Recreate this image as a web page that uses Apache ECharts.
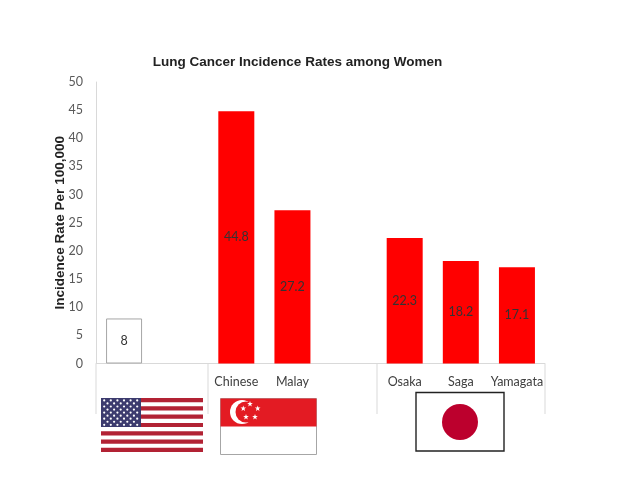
<!DOCTYPE html>
<html><head><meta charset="utf-8">
<style>html,body{margin:0;padding:0;background:#fff}#c{width:638px;height:479px}</style>
<script src="https://cdn.jsdelivr.net/npm/echarts@6/dist/echarts.min.js"></script>
</head><body><div id="c"></div>
<script>
const categories = ['', ' ', 'Chinese', 'Malay', '  ', 'Osaka', 'Saga', 'Yamagata'];
const values = [8, null, 44.8, 27.2, null, 22.3, 18.2, 17.1];
const yTicks = {min: 0, max: 50, interval: 5};
const titleText = 'Lung Cancer Incidence Rates among Women';
const yName = 'Incidence Rate Per 100,000';

function starPoints(cx, cy, R) {
  const p = [];
  for (let i = 0; i < 10; i++) {
    const r = i % 2 ? R * 0.4 : R, a = -Math.PI / 2 + i * Math.PI / 5;
    p.push([cx + r * Math.cos(a), cy + r * Math.sin(a)]);
  }
  return p;
}
const g = [];
// group separators below the axis
[96, 208, 377, 545].forEach(x => g.push({type: 'line', shape: {x1: x, y1: 364, x2: x, y2: 414}, style: {stroke: '#d9d9d9', lineWidth: 1}}));
// US flag
const usX = 101, usY = 398, usW = 102, usH = 54, sh = usH / 13;
for (let i = 0; i < 13; i += 2) g.push({type: 'rect', shape: {x: usX, y: usY + i * sh, width: usW, height: sh}, style: {fill: '#b22234'}});
g.push({type: 'rect', shape: {x: usX, y: usY, width: 40, height: 29}, style: {fill: '#3c3b6e'}});
for (let r = 0; r < 9; r++) {
  const n = r % 2 ? 5 : 6;
  for (let c = 0; c < n; c++) g.push({type: 'circle', shape: {cx: usX + (r % 2 ? 6.5 : 3.2) + c * 6.6, cy: usY + 2.4 + r * 3.05, r: 1.1}, style: {fill: '#ffffff'}});
}
// Singapore flag
g.push({type: 'rect', shape: {x: 220.5, y: 398.5, width: 96, height: 56}, style: {fill: '#fff', stroke: '#a6a6a6', lineWidth: 1}});
g.push({type: 'rect', shape: {x: 220.5, y: 398.5, width: 96, height: 28}, style: {fill: '#e31b23'}});
g.push({type: 'circle', shape: {cx: 242, cy: 412, r: 12}, style: {fill: '#fff'}});
g.push({type: 'circle', shape: {cx: 246, cy: 412, r: 10.5}, style: {fill: '#e31b23'}});
[[250, 404], [243.3, 408.5], [257.7, 408.5], [246, 417], [255, 417]].forEach(s => g.push({type: 'polygon', shape: {points: starPoints(s[0], s[1], 3)}, style: {fill: '#fff'}}));
// Japan flag
g.push({type: 'rect', shape: {x: 416, y: 392.5, width: 88, height: 58.5}, style: {fill: '#fff', stroke: '#222', lineWidth: 1.4}});
g.push({type: 'circle', shape: {cx: 460, cy: 422, r: 18}, style: {fill: '#bc002d'}});

const chart = echarts.init(document.getElementById('c'), null, {renderer: 'canvas'});
chart.setOption({
  animation: false,
  backgroundColor: '#fff',
  title: {text: titleText, left: 292.5, top: 50, textAlign: 'center',
    textStyle: {fontFamily: 'Liberation Sans', fontWeight: 'bold', fontSize: 13.5, color: '#222'}},
  grid: {left: 96, right: 93, top: 82, bottom: 115.5, containLabel: false},
  xAxis: {type: 'category', data: categories,
    axisLine: {lineStyle: {color: '#d9d9d9', width: 1}}, axisTick: {show: false},
    axisLabel: {interval: 0, margin: 12, fontFamily: 'Lato', fontSize: 12.5, color: '#404040'}},
  yAxis: {type: 'value', min: yTicks.min, max: yTicks.max, interval: yTicks.interval,
    name: yName, nameLocation: 'middle', nameGap: 29, nameRotate: 90, nameMoveOverlap: false,
    nameTextStyle: {fontFamily: 'Liberation Sans', fontWeight: 'bold', fontSize: 13.5, color: '#222'},
    axisLine: {show: true, lineStyle: {color: '#d9d9d9', width: 1}}, axisTick: {show: false}, splitLine: {show: false},
    axisLabel: {margin: 13, fontFamily: 'Lato', fontSize: 12.5, color: '#595959'}},
  series: [{type: 'bar', barWidth: 36,
    data: values.map((v, i) => v === null ? null : (i === 0
      ? {value: v, itemStyle: {color: '#fff', borderColor: '#a6a6a6', borderWidth: 1}}
      : {value: v, itemStyle: {color: '#ff0000'}})),
    label: {show: true, position: 'inside', fontFamily: 'Lato', fontSize: 12.5, color: '#333'}}],
  graphic: g
});
</script></body></html>
